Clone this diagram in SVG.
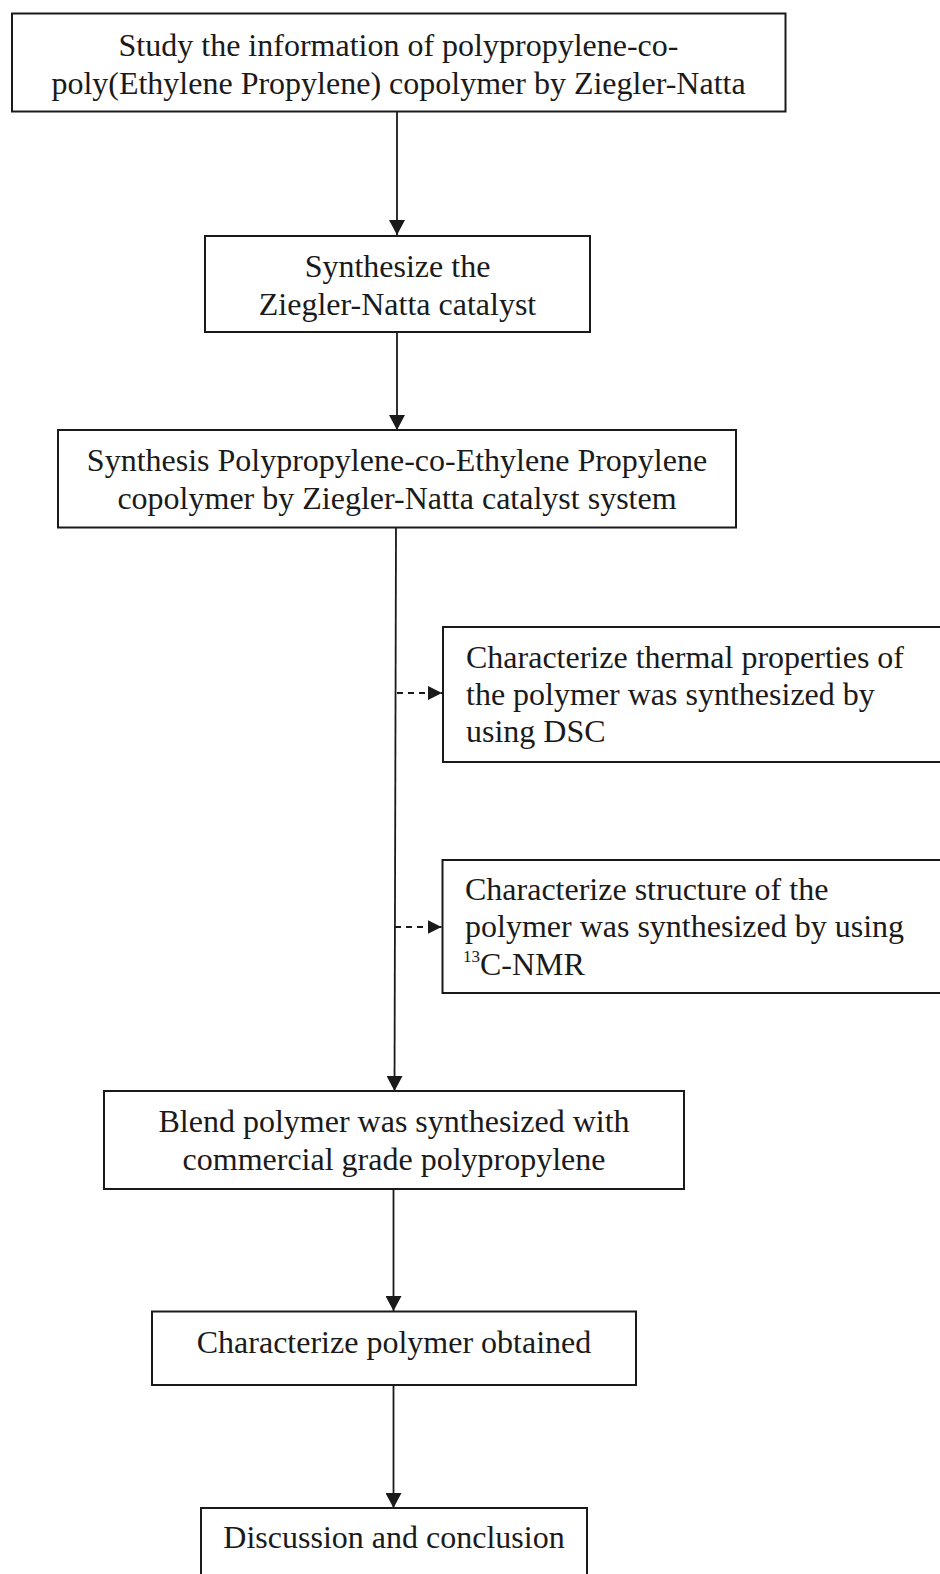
<svg xmlns="http://www.w3.org/2000/svg" width="940" height="1574" viewBox="0 0 940 1574">
<style>
.box{fill:#fff;stroke:#1a1a1a;stroke-width:2}
.t{font-family:"Liberation Serif","Times New Roman",serif;font-size:32px;fill:#1a1a1a}
.sup{font-family:"Liberation Serif","Times New Roman",serif;font-size:17px;fill:#1a1a1a}
.c{text-anchor:middle}
.ln{stroke:#1a1a1a;stroke-width:1.8;fill:none}
.dash{stroke:#1a1a1a;stroke-width:1.8;fill:none;stroke-dasharray:6 5}
</style>
<defs>
<marker id="ah" markerUnits="userSpaceOnUse" markerWidth="16" markerHeight="16" viewBox="0 0 16 16" refX="15" refY="8" orient="auto">
<path d="M0,0 L15,8 L0,16 Z" fill="#1a1a1a"/>
</marker>
<marker id="ahs" markerUnits="userSpaceOnUse" markerWidth="15" markerHeight="14" viewBox="0 0 15 14" refX="14" refY="7" orient="auto">
<path d="M0,0 L14,7 L0,14 Z" fill="#1a1a1a"/>
</marker>
</defs>
<rect width="940" height="1574" fill="#fff"/>
<g id="connectors">
<line class="ln" x1="397" y1="112" x2="397" y2="235" marker-end="url(#ah)"/>
<line class="ln" x1="397" y1="332" x2="397" y2="430" marker-end="url(#ah)"/>
<line class="ln" x1="396" y1="528" x2="394.5" y2="1091" marker-end="url(#ah)"/>
<line class="ln" x1="393.5" y1="1189" x2="393.5" y2="1311" marker-end="url(#ah)"/>
<line class="ln" x1="393.5" y1="1385" x2="393.5" y2="1508" marker-end="url(#ah)"/>
<line class="dash" x1="397" y1="693" x2="442" y2="693" marker-end="url(#ahs)"/>
<line class="dash" x1="395" y1="927" x2="441.5" y2="927" marker-end="url(#ahs)"/>
</g>
<g id="n1">
<rect class="box" x="12" y="13.5" width="773.5" height="98"/>
<text class="t c" x="398.5" y="56">Study the information of polypropylene-co-</text>
<text class="t c" x="398.5" y="93.5">poly(Ethylene Propylene) copolymer by Ziegler-Natta</text>
</g>
<g id="n2">
<rect class="box" x="205" y="236" width="385" height="96"/>
<text class="t c" x="397.5" y="277">Synthesize the</text>
<text class="t c" x="397.5" y="315">Ziegler-Natta catalyst</text>
</g>
<g id="n3">
<rect class="box" x="58" y="430" width="678" height="97.5"/>
<text class="t c" x="397" y="471">Synthesis Polypropylene-co-Ethylene Propylene</text>
<text class="t c" x="397" y="508.5">copolymer by Ziegler-Natta catalyst system</text>
</g>
<g id="n4">
<rect class="box" x="443" y="627" width="510" height="135"/>
<text class="t" x="466" y="668">Characterize thermal properties of</text>
<text class="t" x="466" y="705">the polymer was synthesized by</text>
<text class="t" x="466" y="742">using DSC</text>
</g>
<g id="n5">
<rect class="box" x="442.5" y="860" width="510" height="133"/>
<text class="t" x="465" y="900">Characterize structure of the</text>
<text class="t" x="465" y="937">polymer was synthesized by using</text>
<text class="sup" x="463" y="962">13</text>
<text class="t" x="480" y="975">C-NMR</text>
</g>
<g id="n6">
<rect class="box" x="104" y="1091" width="580" height="98"/>
<text class="t c" x="394" y="1132">Blend polymer was synthesized with</text>
<text class="t c" x="394" y="1170">commercial grade polypropylene</text>
</g>
<g id="n7">
<rect class="box" x="152" y="1311.5" width="484" height="73.5"/>
<text class="t c" x="394" y="1353">Characterize polymer obtained</text>
</g>
<g id="n8">
<rect class="box" x="201" y="1508" width="386" height="80"/>
<text class="t c" x="394" y="1548">Discussion and conclusion</text>
</g>
</svg>
